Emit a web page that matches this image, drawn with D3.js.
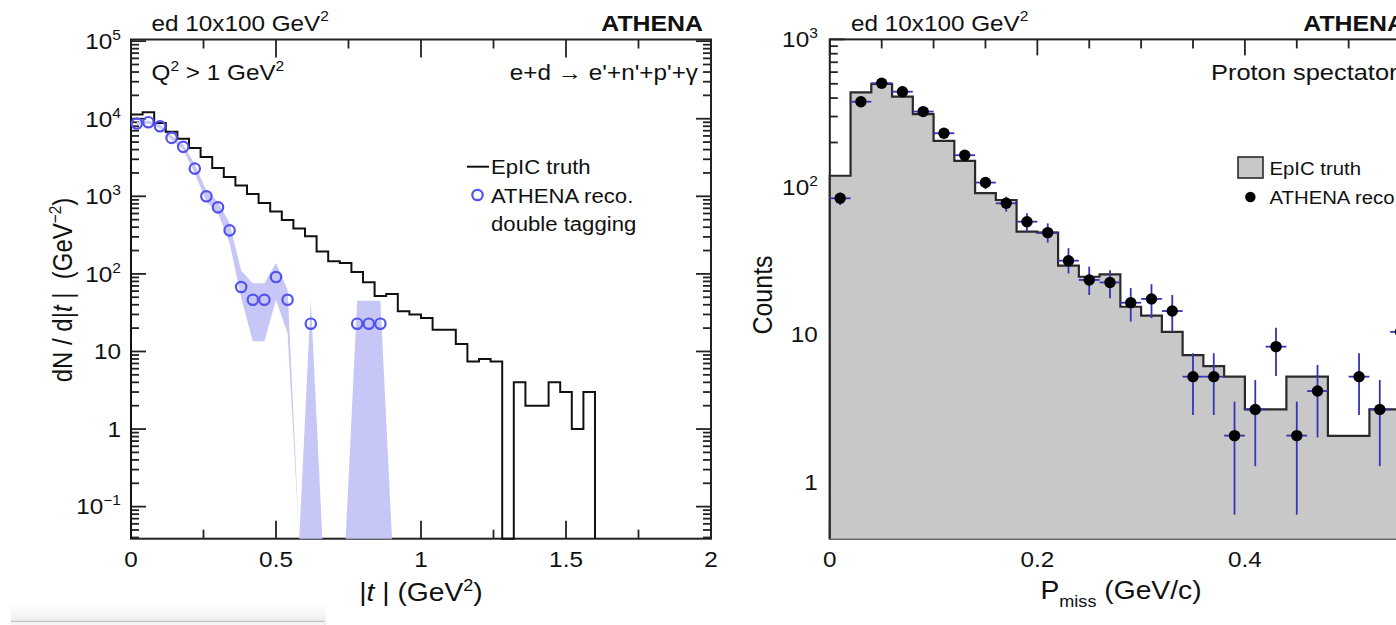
<!DOCTYPE html>
<html><head><meta charset="utf-8">
<script src="https://cdn.jsdelivr.net/npm/d3@7"></script>
<style>html,body{margin:0;padding:0;background:#fff;overflow:hidden} svg{display:block}</style>
</head><body><svg id="c" width="1396" height="625"></svg>
<script>
// ---------------- DATA ----------------
// Left panel: |t| distribution
const tBinEdges = [0,0.04,0.08,0.12,0.16,0.2,0.24,0.28,0.32,0.36,0.4,0.44,0.48,0.52,0.56,0.6,0.64,0.68,0.72,0.76,0.8,0.84,0.88,0.92,0.96,1.0,1.04,1.08,1.12,1.16,1.2,1.24,1.28,1.32,1.36,1.4,1.44,1.48,1.52,1.56,1.6];
const truthT = [11300,12100,8800,6800,5500,4200,3220,2320,1780,1375,1070,820,635,495,385,305,195,145,138,106,78,52,55,33,30,27,19,19,12.5,7.4,8.0,7.4,0,4,2,2,4,3,1,3];
const recoT  = [0.02,0.06,0.10,0.14,0.18,0.22,0.26,0.30,0.34,0.38,0.42,0.46,0.50,0.54,0.58,0.62,0.66,0.70,0.74,0.78,0.82,0.86,0.90];
const recoN  = [8670,9020,8000,5660,4340,2275,1000,721,364,67.8,46.4,46.4,91,46.4,0,22.8,0,0,0,22.8,22.8,22.8,0];
const recoLo = [8300,8650,7600,5300,4000,1980,850,610,250,49,13.5,13.5,46,17,0,0,0,0,0,0,0,0,0];
const recoHi = [9050,9400,8400,6050,4700,2580,1170,850,450,110,76,76,138,62,0,46,0,0,0,45,45,45,0];
const leftXTicks = [0,0.5,1,1.5,2];
const leftXTickLabels = ["0","0.5","1","1.5","2"];
const leftXMinor = [0.25,0.75,1.25,1.75];

// Right panel: P_miss distribution
const pBinEdges = [0,0.02,0.04,0.06,0.08,0.1,0.12,0.14,0.16,0.18,0.2,0.22,0.24,0.26,0.28,0.3,0.32,0.34,0.36,0.38,0.4,0.42,0.44,0.46,0.48,0.5,0.52,0.54,0.56];
const truthP = [119,438,499,409,311,205,150,90.6,81.5,49.7,49,29.3,24.6,25.5,15.4,13.4,10.4,7.24,6.1,5.17,3.1,3.1,5.17,5.17,2.05,2.05,3.1,3.1];
const pCenters = [0.01,0.03,0.05,0.07,0.09,0.11,0.13,0.15,0.17,0.19,0.21,0.23,0.25,0.27,0.29,0.31,0.33,0.35,0.37,0.39,0.41,0.43,0.45,0.47,0.49,0.51,0.53,0.55];
const recoP   = [83.7,378,504,442,324,231,164,107,77.4,58.1,49,31.6,23.4,22.5,16.4,17.4,14.4,5.17,5.17,2.06,3.1,8.26,2.06,4.13,0,5.17,3.1,10.4];
const recoPLo = [75.3,365,488,427,311,220,154,96.4,67.9,49.7,41.9,25.9,18.5,17.6,12.2,12.9,10.4,2.84,2.84,0.6,1.28,5.23,0.6,2.0,0,2.84,1.28,6];
const recoPHi = [91.4,392,520,457,337,242,174,114,85.9,66.2,56.6,38.4,28.8,27.2,20.6,21.9,18.5,7.45,7.45,3.5,4.9,11.1,3.5,6.2,0,7.45,4.9,14];
const rightXTicks = [0,0.2,0.4];
const rightXTickLabels = ["0","0.2","0.4"];
const rightXMinor = [0.05,0.1,0.15,0.25,0.3,0.35,0.45,0.5,0.55];

// ---------------- SETUP ----------------
const FONT = "'Liberation Sans', Arial, Helvetica, sans-serif";
const SX = 1.13;
const svg = d3.select('#c');

function rich(parent, x, y, parts, o) {
  const rot = o.rot || 0;
  const sc = rot ? `scale(1,${SX})` : `scale(${SX},1)`;
  const t = parent.append('text')
    .attr('transform', `translate(${x},${y}) rotate(${rot}) ${sc}`)
    .attr('text-anchor', o.anchor || 'start')
    .attr('font-size', o.size)
    .attr('font-weight', o.weight || 'normal')
    .attr('font-family', FONT)
    .attr('fill', o.fill || '#111')
    .style('white-space', 'pre');
  let shift = 0;
  parts.forEach(p => {
    const [s, kind] = (typeof p === 'string') ? [p, 'n'] : p;
    let target = 0, fs = o.size;
    if (kind === 'sup') { target = -o.size * 0.42; fs = o.size * 0.64; }
    if (kind === 'sub') { target = o.size * 0.32; fs = o.size * 0.64; }
    const ts = t.append('tspan').text(s).attr('font-size', fs).attr('dy', target - shift);
    if (kind === 'i') ts.attr('font-style', 'italic');
    shift = target;
  });
  return t;
}

function logTicks(scale) {
  const [a, b] = scale.domain();
  const majors = [], minors = [];
  for (let e = Math.floor(Math.log10(a)); e <= Math.ceil(Math.log10(b)); e++) {
    const base = Math.pow(10, e);
    if (base >= a * 0.999 && base <= b * 1.001) majors.push(base);
    for (let m = 2; m <= 9; m++) { const v = m * base; if (v >= a && v <= b) minors.push(v); }
  }
  return { majors, minors };
}
function logLabel(v) {
  const e = Math.round(Math.log10(v));
  if (e === 0) return ['1'];
  if (e === 1) return ['10'];
  return ['10', [e < 0 ? '\u2212' + (-e) : String(e), 'sup']];
}

function drawFrame(g, X, Y, o) {
  const [x0, x1] = X.range(), [y0, y1] = Y.range(); // y0 bottom, y1 top
  const st = '#222';
  const lg = g.append('g').attr('stroke', st).attr('stroke-width', 1.8).attr('fill', 'none');
  const lt = logTicks(Y);
  lt.majors.forEach(v => {
    const y = Y(v);
    lg.append('line').attr('x1', x0).attr('x2', x0 + 15).attr('y1', y).attr('y2', y);
    lg.append('line').attr('x1', x1).attr('x2', x1 - 15).attr('y1', y).attr('y2', y);
  });
  lt.minors.forEach(v => {
    const y = Y(v);
    lg.append('line').attr('x1', x0).attr('x2', x0 + 8).attr('y1', y).attr('y2', y);
    lg.append('line').attr('x1', x1).attr('x2', x1 - 8).attr('y1', y).attr('y2', y);
  });
  o.xMajor.forEach(v => {
    const x = X(v);
    lg.append('line').attr('x1', x).attr('x2', x).attr('y1', y0).attr('y2', y0 - o.majLen);
    lg.append('line').attr('x1', x).attr('x2', x).attr('y1', y1).attr('y2', y1 + o.majLen);
  });
  o.xMinor.forEach(v => {
    const x = X(v);
    lg.append('line').attr('x1', x).attr('x2', x).attr('y1', y0).attr('y2', y0 - 9);
    lg.append('line').attr('x1', x).attr('x2', x).attr('y1', y1).attr('y2', y1 + 9);
  });
  g.append('rect').attr('x', x0).attr('y', y1).attr('width', x1 - x0).attr('height', y0 - y1)
    .attr('fill', 'none').attr('stroke', st).attr('stroke-width', 2);
  lt.majors.forEach(v => {
    rich(g, x0 - o.ylabOff, Y(v) + 7.8, logLabel(v), { size: 21.5, anchor: 'end' });
  });
  o.xMajor.forEach((v, i) => {
    if (o.xLabels[i] !== undefined)
      rich(g, X(v), 566.7, [o.xLabels[i]], { size: 21.5, anchor: 'middle' });
  });
}

function stepPath(X, Y, edges, vals, closed) {
  const yb = Y.range()[0], ymin = Y.domain()[0];
  const yy = v => (v <= ymin ? yb : Y(v));
  let d = `M${X(edges[0])},${yb}`;
  vals.forEach((v, i) => {
    d += `L${X(edges[i])},${yy(v)}L${X(edges[i + 1])},${yy(v)}`;
  });
  d += `L${X(edges[edges.length - 1])},${yb}`;
  if (closed) d += 'Z';
  return d;
}

// ---------------- LEFT PANEL ----------------
const xL = d3.scaleLinear().domain([0, 2]).range([131, 711]);
const yL = d3.scaleLog().domain([0.0386, 1.05e5]).range([538.7, 39.5]);
const gL = svg.append('g');
drawFrame(gL, xL, yL, { xMajor: leftXTicks, xMinor: leftXMinor, xLabels: leftXTickLabels, majLen: 18, ylabOff: 10 });

const yLc = v => (v <= yL.domain()[0] ? yL.range()[0] : yL(v));
let band = '';
recoT.forEach((t, i) => { band += (i ? 'L' : 'M') + xL(t) + ',' + yLc(recoHi[i]); });
for (let i = recoT.length - 1; i >= 0; i--) band += 'L' + xL(recoT[i]) + ',' + yLc(recoLo[i]);
band += 'Z';
gL.append('path').attr('d', band).attr('fill', '#c7c7f7').attr('stroke', 'none');

gL.append('path').attr('d', stepPath(xL, yL, tBinEdges, truthT, false))
  .attr('fill', 'none').attr('stroke', '#111').attr('stroke-width', 2).attr('stroke-linejoin', 'miter');

recoT.forEach((t, i) => {
  if (recoN[i] > 0)
    gL.append('circle').attr('cx', xL(t)).attr('cy', yL(recoN[i])).attr('r', 5.2)
      .attr('fill', 'none').attr('stroke', '#5252ee').attr('stroke-width', 2.2);
});

gL.append('line').attr('x1', 467).attr('x2', 489).attr('y1', 166.7).attr('y2', 166.7).attr('stroke', '#111').attr('stroke-width', 2);
rich(gL, 491, 174, ['EpIC truth'], { size: 19.6 });
gL.append('circle').attr('cx', 477.5).attr('cy', 195).attr('r', 5.2).attr('fill', 'none').attr('stroke', '#5252ee').attr('stroke-width', 2.2);
rich(gL, 491, 202.5, ['ATHENA reco.'], { size: 19.6 });
rich(gL, 491, 231, ['double tagging'], { size: 19.6 });

rich(gL, 151.5, 30.5, ['ed 10x100 GeV', ['2', 'sup']], { size: 21.5 });
rich(gL, 703, 30.5, ['ATHENA'], { size: 22, weight: 'bold', anchor: 'end' });
rich(gL, 151.5, 80, ['Q', ['2', 'sup'], ' > 1 GeV', ['2', 'sup']], { size: 21.5 });
rich(gL, 698, 80, ["e+d \u2192 e'+n'+p'+\u03b3"], { size: 21.5, anchor: 'end' });
rich(gL, 421, 601, ['|', ['t', 'i'], ' | (GeV', ['2', 'sup'], ')'], { size: 25, anchor: 'middle' });
rich(gL, 72, 290, ['dN / d|', ['t', 'i'], ' |  (GeV', ['\u22122', 'sup'], ')'], { size: 24, anchor: 'middle', rot: -90 });

// ---------------- RIGHT PANEL ----------------
const xR = d3.scaleLinear().domain([0, 0.562]).range([829.8, 1413]);
const yR = d3.scaleLog().domain([0.412, 1000]).range([538.7, 39.4]);
const gR = svg.append('g');
drawFrame(gR, xR, yR, { xMajor: rightXTicks, xMinor: rightXMinor, xLabels: rightXTickLabels, majLen: 16, ylabOff: 12 });

gR.append('path').attr('d', stepPath(xR, yR, pBinEdges, truthP, true))
  .attr('fill', '#c8c8c8').attr('stroke', 'none');
gR.append('path').attr('d', stepPath(xR, yR, pBinEdges, truthP, false))
  .attr('fill', 'none').attr('stroke', '#2a2a2a').attr('stroke-width', 2.2);

const yRc = v => (v <= yR.domain()[0] ? yR.range()[0] : yR(v));
const halfW = 0.01;
pCenters.forEach((c, i) => {
  if (recoP[i] <= 0) return;
  const x = xR(c), y = yR(recoP[i]);
  gR.append('line').attr('x1', xR(c - halfW)).attr('x2', xR(c + halfW)).attr('y1', y).attr('y2', y)
    .attr('stroke', '#3434bb').attr('stroke-width', 1.8);
  gR.append('line').attr('x1', x).attr('x2', x).attr('y1', yRc(recoPLo[i])).attr('y2', yRc(recoPHi[i]))
    .attr('stroke', '#3434bb').attr('stroke-width', 1.8);
  gR.append('circle').attr('cx', x).attr('cy', y).attr('r', 5.7).attr('fill', '#000');
});

gR.append('rect').attr('x', 1238).attr('y', 157).attr('width', 25).attr('height', 21)
  .attr('fill', '#c8c8c8').attr('stroke', '#2a2a2a').attr('stroke-width', 1.6);
rich(gR, 1269.5, 174.5, ['EpIC truth'], { size: 18 });
gR.append('circle').attr('cx', 1250.4).attr('cy', 197).attr('r', 5.2).attr('fill', '#000');
rich(gR, 1269.5, 203.5, ['ATHENA reco.'], { size: 18 });

rich(gR, 851, 30.5, ['ed 10x100 GeV', ['2', 'sup']], { size: 21.5 });
rich(gR, 1405, 30.5, ['ATHENA'], { size: 22, weight: 'bold', anchor: 'end' });
rich(gR, 1211, 80, ['Proton spectator'], { size: 22.5 });
rich(gR, 1121, 599, ['P', ['miss', 'sub'], ' (GeV/c)'], { size: 25, anchor: 'middle' });
rich(gR, 772, 295, ['Counts'], { size: 25, anchor: 'middle', rot: -90 });

// ---------------- screenshot artifact (bottom-left panel edge) ----------------
const defs = svg.append('defs');
const gr = defs.append('linearGradient').attr('id', 'fadeG').attr('x1', 0).attr('y1', 0).attr('x2', 0).attr('y2', 1);
gr.append('stop').attr('offset', '0').attr('stop-color', '#ffffff');
gr.append('stop').attr('offset', '1').attr('stop-color', '#ececec');
svg.append('path').attr('d', 'M11,603 L318,603 Q326,603 326,611 L326,625 L11,625 Z').attr('fill', 'url(#fadeG)');
svg.append('line').attr('x1', 11).attr('x2', 324).attr('y1', 621.5).attr('y2', 621.5).attr('stroke', '#c4c4c4').attr('stroke-width', 1.5);
svg.append('rect').attr('x', 11).attr('y', 622.3).attr('width', 313).attr('height', 3).attr('fill', '#f6f6f6');
</script></body></html>
